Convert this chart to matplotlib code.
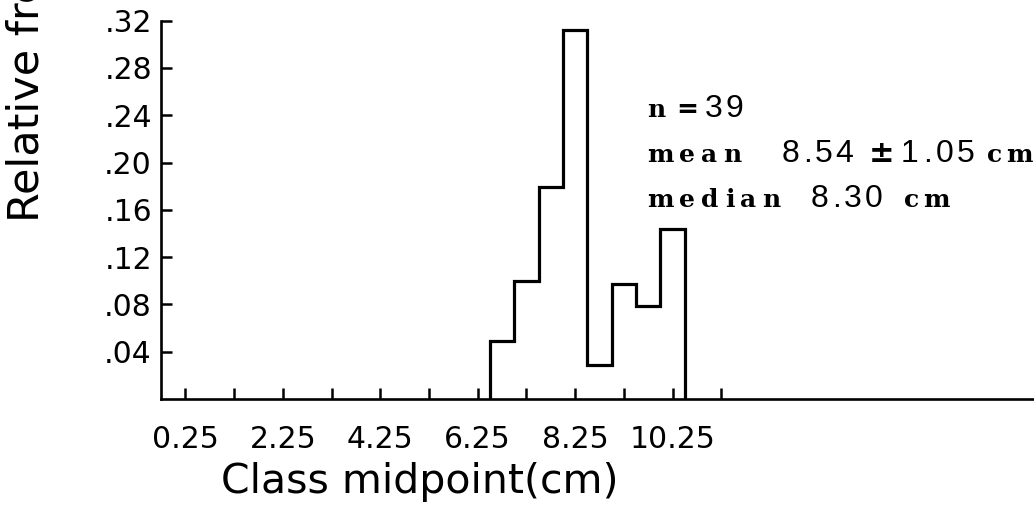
import numpy as np
import matplotlib
matplotlib.use('Agg')
import matplotlib.pyplot as plt

# class midpoints (cm) and relative frequencies
midpoints = [6.75, 7.25, 7.75, 8.25, 8.75, 9.25, 9.75, 10.25]
rel_freq = [0.049, 0.100, 0.179, 0.312, 0.029, 0.097, 0.079, 0.144]
class_width = 0.5

x_ticks = [0.25, 1.25, 2.25, 3.25, 4.25, 5.25, 6.25, 7.25, 8.25, 9.25, 10.25, 11.25]
x_labels = ['0.25', '', '2.25', '', '4.25', '', '6.25', '', '8.25', '', '10.25', '']
y_ticks = [0.04, 0.08, 0.12, 0.16, 0.20, 0.24, 0.28, 0.32]
y_labels = ['.04', '.08', '.12', '.16', '.20', '.24', '.28', '.32']

W, H = 1034, 517
fig = plt.figure(figsize=(W / 100, H / 100), dpi=100)
ax = fig.add_axes([161 / W, 1 - 399 / H, 1 - 161 / W, (399 - 20.7) / H])

edges = np.append(np.array(midpoints) - class_width / 2, midpoints[-1] + class_width / 2)
ax.stairs(rel_freq, edges, baseline=0, fill=False, color='black', linewidth=2.3)

ax.set_xlim(-0.25, 17.67)
ax.set_ylim(0, 0.32)
for s in ['top', 'right']:
    ax.spines[s].set_visible(False)
for s in ['left', 'bottom']:
    ax.spines[s].set_linewidth(1.9)

ax.set_xticks(x_ticks)
ax.set_xticklabels(x_labels)
ax.set_yticks(y_ticks)
ax.set_yticklabels(y_labels)
ax.tick_params(axis='x', direction='in', length=8, width=1.8, pad=19, labelsize=21.5)
ax.tick_params(axis='y', direction='in', length=8, width=1.8, pad=6.5, labelsize=21.5)

ax.set_xlabel('Class midpoint(cm)', fontsize=29.5)
ax.xaxis.set_label_coords((420 - 161) / (W - 161), -0.22)
ax.xaxis.label.set_verticalalignment('center')

# y label, cut by the top of the scan
fig.text(27 / W, 1 - 222 / H, 'Relative frequency', rotation=90, ha='center', va='bottom', fontsize=31)

# statistics block: typewriter-like letters with wide tracking
rend = fig.canvas.get_renderer()

def spaced(x, y, s, track, **kw):
    for ch in s:
        t = fig.text(x / W, 1 - y / H, ch, ha='left', va='baseline', **kw)
        x += t.get_window_extent(renderer=rend).width + track
    return x

serif = dict(family='DejaVu Serif', fontsize=18, weight='bold')
sans = dict(family='Liberation Sans', fontsize=23)

spaced(647, 117, 'n', 4, **serif)
spaced(676, 117, '=', 4, family='DejaVu Sans', fontsize=19, weight='bold')
spaced(705, 117, '39', 3, **sans)

spaced(647, 162, 'mean', 6, **serif)
spaced(782, 162, '8.54', 3, **sans)
spaced(869, 162, '\u00b1', 3, family='DejaVu Sans', fontsize=22, weight='bold')
spaced(901, 162, '1.05', 4, **sans)
spaced(987, 162, 'cm', 4, **serif)

spaced(647, 207, 'median', 6, **serif)
spaced(811, 207, '8.30', 3, **sans)
spaced(904, 207, 'cm', 4, **serif)

fig.savefig('out.png', dpi=100)
